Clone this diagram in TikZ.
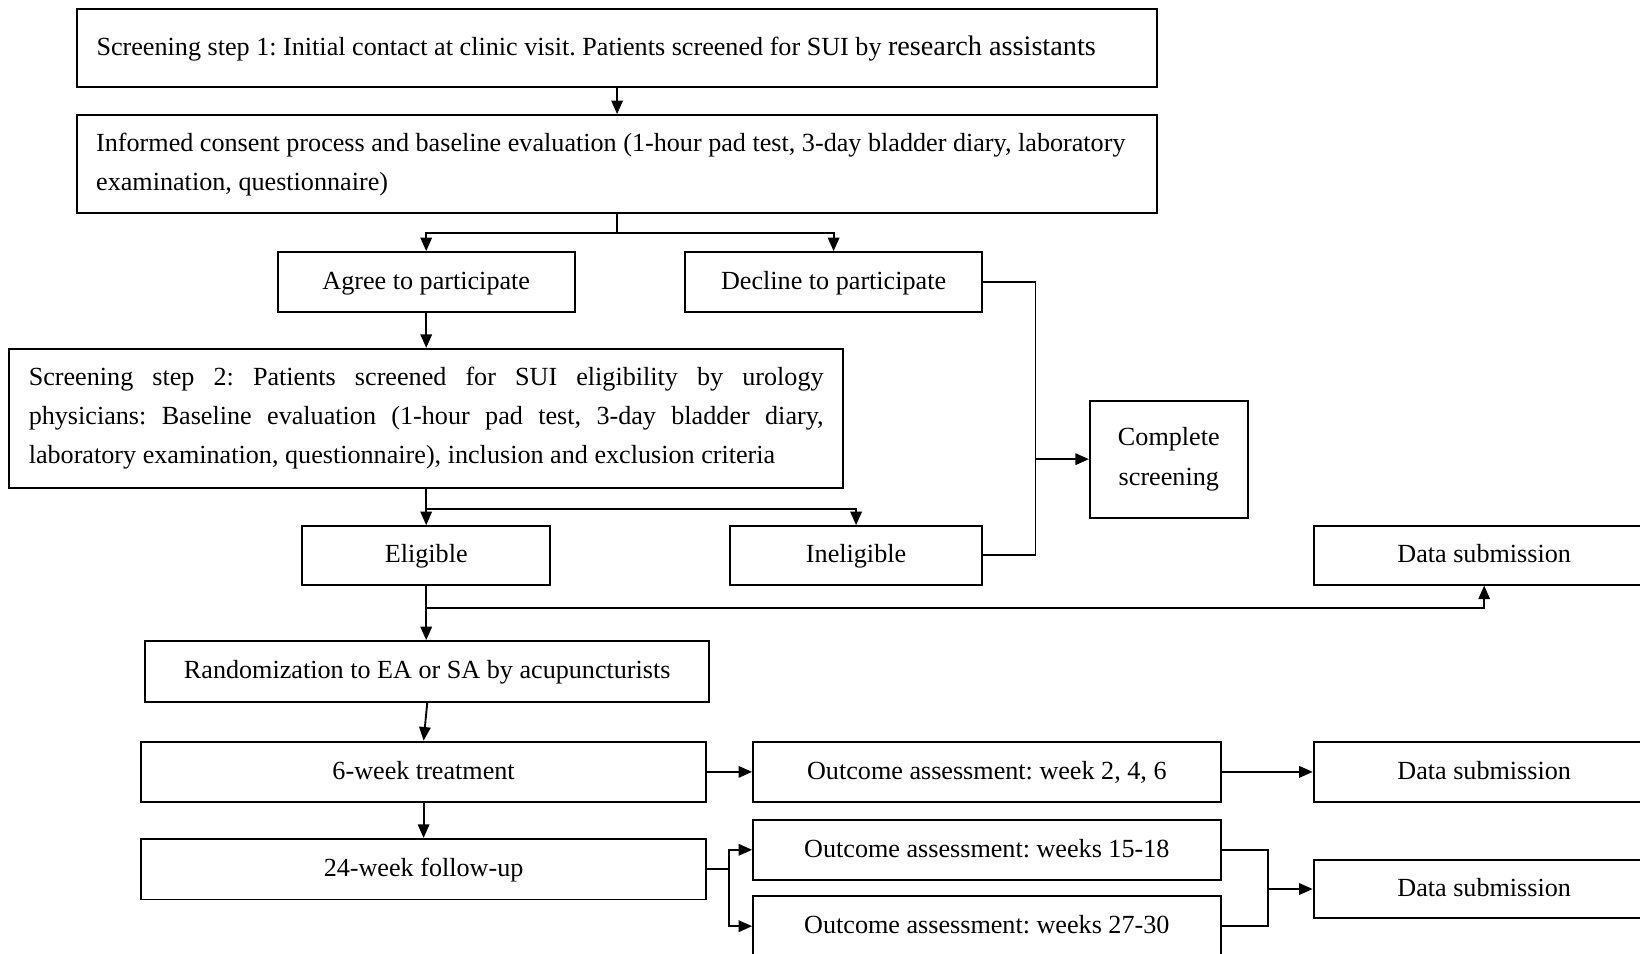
\documentclass[tikz,border=0pt]{standalone}
\usepackage{fontspec}
\setmainfont{Liberation Serif}
\usepackage{tikz}
\usetikzlibrary{arrows.meta,positioning,calc}

\begin{document}
\frenchspacing
\hyphenpenalty=10000
\begin{tikzpicture}[x=1pt, y=-1pt, >={Triangle[length=13pt,width=11pt]}]
%boite : cadre d'une etape, case : cadre d'une seule ligne, fleche : liaison terminee par une pointe
\tikzset{boite/.style={draw,rectangle,line width=1.8pt,inner sep=0pt,font=\fontsize{25}{37.5}\selectfont}}
\tikzset{case/.style={boite,text height=18pt,text depth=4pt}}
\tikzset{fleche/.style={->,line width=1.8pt}}
\tikzset{trait/.style={line width=1.8pt}}

\useasboundingbox (0,0) rectangle (1568,912);
\clip (0,0) rectangle (1568,912);

% selection
\node[boite,minimum width=1032pt,minimum height=74pt,align=left] (etape1) at (590,46)
  {Screening step 1: Initial contact at clinic visit. Patients screened for SUI by {\fontsize{27}{34}\selectfont research assistants}\hspace*{40pt}};
\node[boite,minimum width=1032pt,minimum height=94pt,align=left] (consent) at (590,157)
  {Informed consent process and baseline evaluation (1-hour pad test, 3-day bladder diary, laboratory\hspace*{12pt}\\examination, questionnaire)};
\node[case,minimum width=284pt,minimum height=57pt] (accord) at (407.5,269.5) {Agree to participate};
\node[case,minimum width=284pt,minimum height=57pt] (refus) at (797,269.5) {Decline to participate};
\node[boite,minimum width=797pt,minimum height=133pt,text width=760pt,align=justify] (etape2) at (407.5,400)
  {Screening step 2: Patients screened for SUI eligibility by urology\linebreak physicians: Baseline evaluation (1-hour pad test, 3-day bladder diary,\linebreak laboratory examination, questionnaire), inclusion and exclusion criteria};
\node[boite,minimum width=151pt,minimum height=112pt,align=center] (complet) at (1117.5,439) {Complete\\screening};
\node[case,minimum width=237pt,minimum height=56pt] (eligible) at (407.5,531) {Eligible};
\node[case,minimum width=241pt,minimum height=56pt] (ineligible) at (818.5,531) {Ineligible};
\node[case,minimum width=326pt,minimum height=56pt] (donnees1) at (1419,531) {Data submission};

% essai
\node[case,minimum width=539pt,minimum height=58pt] (tirage) at (408.5,642) {Randomization to EA or SA by acupuncturists};
\node[case,minimum width=540pt,minimum height=58pt] (traitement) at (405,738) {6-week treatment};
\node[case,minimum width=447pt,minimum height=58pt] (mesure1) at (943.5,738) {Outcome assessment: week 2, 4, 6};
\node[case,minimum width=326pt,minimum height=58pt] (donnees2) at (1419,738) {Data submission};
\node[case,minimum width=540pt,minimum height=58pt] (suivi) at (405,831) {24-week follow-up};
\node[case,minimum width=447pt,minimum height=57pt] (mesure2) at (943.5,812.5) {Outcome assessment: weeks 15-18};
\node[case,minimum width=447pt,minimum height=57pt] (mesure3) at (943.5,885.5) {Outcome assessment: weeks 27-30};
\node[case,minimum width=326pt,minimum height=56pt] (donnees3) at (1419,850) {Data submission};

\coordinate (jonction) at (990,439);
\coordinate (embranch) at (407.5,581);
\coordinate (fourche) at (697,831);
\coordinate (regroupe) at (1212,850);

\draw[fleche] (etape1) -- (consent);
\draw[fleche] (consent.south) -- ++(0,18) -| (accord.north);
\draw[fleche] (consent.south) -- ++(0,18) -| (refus.north);
\draw[trait] (refus.east) -| (jonction) |- (ineligible.east);
\draw[fleche] (jonction) -- (complet.west);
\draw[fleche] (accord) -- (etape2);
\draw[fleche] (etape2.south) -- (eligible.north);
\draw[fleche] (etape2.south) -- ++(0,19) -| (ineligible.north);
\draw[trait] (eligible.south) -- (embranch);
\draw[fleche] (embranch) -- (tirage.north -| embranch);
\draw[fleche] (embranch) -| (donnees1.south);
\draw[fleche] (tirage.south) -- (traitement.north);
\draw[fleche] (traitement) -- (mesure1);
\draw[fleche] (mesure1) -- (donnees2);
\draw[fleche] (traitement) -- (suivi);
\draw[trait] (suivi.east) -- (fourche);
\draw[fleche] (fourche) |- (mesure2.west);
\draw[fleche] (fourche) |- (mesure3.west);
\draw[trait] (mesure2.east) -| (regroupe) |- (mesure3.east);
\draw[fleche] (regroupe) -- (donnees3);
\end{tikzpicture}
\end{document}
